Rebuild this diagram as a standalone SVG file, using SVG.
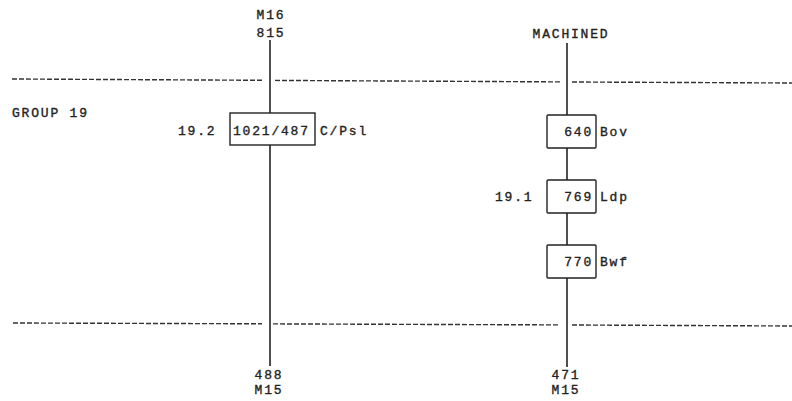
<svg xmlns="http://www.w3.org/2000/svg" width="792" height="401" viewBox="0 0 792 401">
<style>
text{font-family:"Liberation Mono","Courier New",monospace;font-size:13px;fill:#222;stroke:#222;stroke-width:0.35;letter-spacing:1.8px}
.mid{text-anchor:middle}
.end{text-anchor:end}
.box{fill:#fff;stroke:#222;stroke-width:1.4}
.wire{stroke:#222;stroke-width:1.6;fill:none}
.dash{stroke:#333;stroke-width:1.4;stroke-dasharray:5 2;fill:none}
</style>
<rect width="792" height="401" fill="#fff"/>
<g id="boundaries">
<line class="dash" x1="12" y1="79" x2="263" y2="80.3"/>
<line class="dash" x1="275" y1="80.4" x2="562" y2="81.9"/>
<line class="dash" x1="572" y1="82" x2="792" y2="83"/>
<line class="dash" x1="13" y1="323" x2="262" y2="323.8"/>
<line class="dash" x1="273" y1="323.9" x2="560" y2="324.9"/>
<line class="dash" x1="572" y1="325" x2="792" y2="326"/>
</g>
<g id="connectors">
<line class="wire" x1="270" y1="40" x2="270" y2="113"/>
<line class="wire" x1="270" y1="145" x2="270" y2="366"/>
<line class="wire" x1="567" y1="43" x2="567" y2="115"/>
<line class="wire" x1="567" y1="148" x2="567" y2="180"/>
<line class="wire" x1="567" y1="213" x2="567" y2="245"/>
<line class="wire" x1="567" y1="278" x2="567" y2="367"/>
</g>
<g id="group-label"><text x="12" y="117">GROUP 19</text></g>
<g id="top-left"><text class="mid" x="271" y="19">M16</text><text class="mid" x="271" y="37">815</text></g>
<g id="top-right"><text class="mid" x="571" y="38">MACHINED</text></g>
<g id="bottom-left"><text class="mid" x="269" y="379">488</text><text class="mid" x="269" y="394">M15</text></g>
<g id="bottom-right"><text class="mid" x="566" y="379">471</text><text class="mid" x="566" y="394">M15</text></g>
<g id="node-1021">
<rect class="box" x="230" y="113" width="85" height="32"/>
<text x="233" y="135">1021/487</text>
<text x="320" y="135">C/Psl</text>
<text x="178" y="135">19.2</text>
</g>
<g id="node-640">
<rect class="box" x="547" y="115" width="49" height="33" rx="1"/>
<text class="end" x="593" y="136">640</text>
<text x="600" y="136">Bov</text>
</g>
<g id="node-769">
<rect class="box" x="547" y="180" width="49" height="33" rx="1"/>
<text class="end" x="593" y="201">769</text>
<text x="600" y="201">Ldp</text>
<text x="495" y="201">19.1</text>
</g>
<g id="node-770">
<rect class="box" x="547" y="245" width="49" height="33" rx="1"/>
<text class="end" x="593" y="266">770</text>
<text x="600" y="266">Bwf</text>
</g>
</svg>
